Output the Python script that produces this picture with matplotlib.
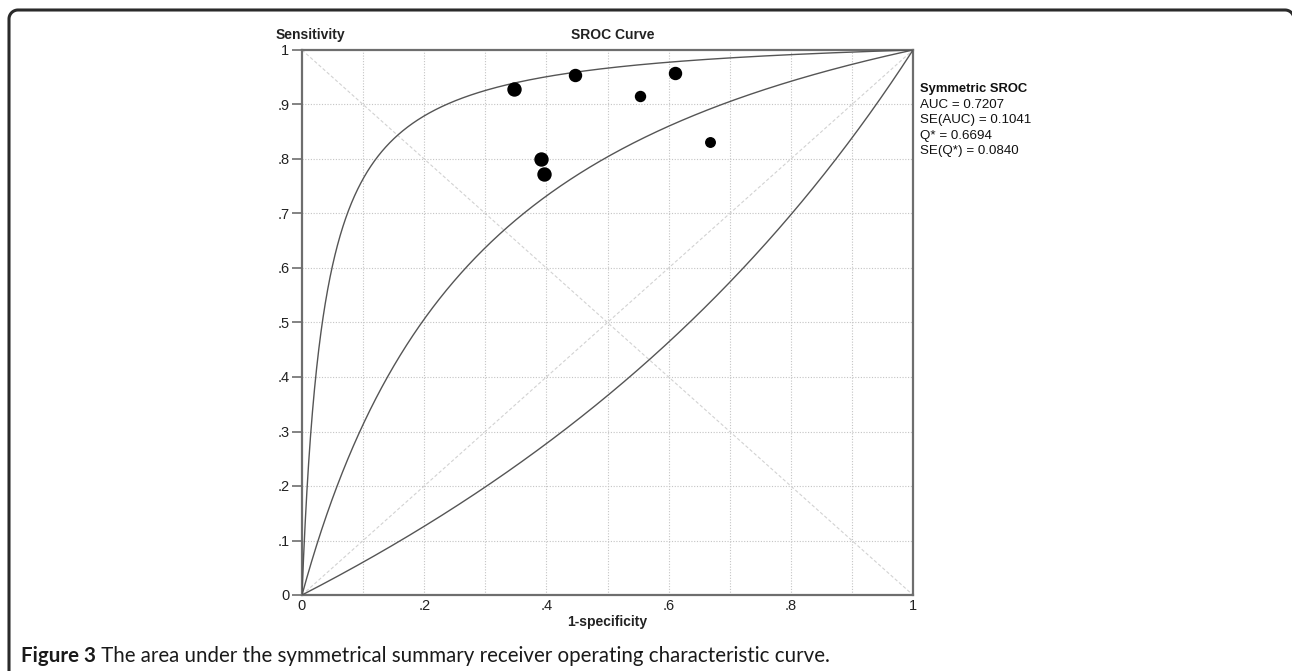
import numpy as np
import matplotlib
matplotlib.use("Agg")
import matplotlib.pyplot as plt
from matplotlib.lines import Line2D

# ---- data ----
fpr = [0.347, 0.447, 0.553, 0.610, 0.668, 0.391, 0.396]
tpr = [0.928, 0.954, 0.916, 0.958, 0.832, 0.800, 0.772]
msize_px = [13, 12, 10, 12, 9.5, 13, 13]
# SROC model: logit(TPR) = a + logit(FPR); lower bound, fitted, upper bound
sroc_a = [-0.55, 1.411, 3.37]
xtick_vals = [0, 0.2, 0.4, 0.6, 0.8, 1.0]
xtick_labels = ["0", ".2", ".4", ".6", ".8", "1"]
ytick_vals = [0, 0.1, 0.2, 0.3, 0.4, 0.5, 0.6, 0.7, 0.8, 0.9, 1.0]
ytick_labels = ["0", ".1", ".2", ".3", ".4", ".5", ".6", ".7", ".8", ".9", "1"]
stats_title = "Symmetric SROC"
stats_lines = ["AUC = 0.7207", "SE(AUC) = 0.1041", "Q* = 0.6694", "SE(Q*) = 0.0840"]
caption_bold = "Figure 3"
caption_rest = " The area under the symmetrical summary receiver operating characteristic curve."

W, H = 1292, 671
fig = plt.figure(figsize=(W / 100, H / 100), dpi=100)
fig.patch.set_facecolor("white")

# outer frame (rounded top corners, open at bottom, right edge off-canvas)
fl, ft, fr, rad = 9.0, 10.0, 1294.0, 9.0
th = np.linspace(0, np.pi / 2, 20)
left_arc_x = fl + rad - rad * np.cos(th)
left_arc_y = ft + rad - rad * np.sin(th)
right_arc_x = fr - rad + rad * np.sin(th)
right_arc_y = ft + rad - rad * np.cos(th)
px = np.concatenate([[fl], left_arc_x, right_arc_x, [fr]])
py = np.concatenate([[H + 10], left_arc_y, right_arc_y, [H + 10]])
fig.add_artist(Line2D(px / W, 1 - py / H, transform=fig.transFigure,
                      color="#2a2a2a", lw=2.2, clip_on=False,
                      solid_joinstyle="round"))

ax_l, ax_r, ax_t, ax_b = 302, 913, 50, 595
ax = fig.add_axes([ax_l / W, 1 - ax_b / H, (ax_r - ax_l) / W, (ax_b - ax_t) / H])
ax.set_xlim(0, 1)
ax.set_ylim(0, 1)

# grid
for v in np.arange(1, 10) / 10:
    ax.axvline(v, color="#c4c4c4", lw=0.8, ls=(0, (1, 1.5)), zorder=1)
    ax.axhline(v, color="#c4c4c4", lw=0.8, ls=(0, (1, 1.5)), zorder=1)
# diagonals
ax.plot([0, 1], [0, 1], color="#d2d2d2", lw=0.8, ls=(0, (3, 2)), zorder=1)
ax.plot([0, 1], [1, 0], color="#d2d2d2", lw=0.8, ls=(0, (3, 2)), zorder=1)

# SROC curves
xs = np.linspace(1e-6, 1 - 1e-6, 2000)
xs = np.concatenate([[0.0], np.geomspace(1e-7, 0.02, 400), xs[xs > 0.02], [1.0]])
for a in sroc_a:
    with np.errstate(divide="ignore", invalid="ignore"):
        ys = 1.0 / (1.0 + np.exp(-a) * (1 - xs) / np.where(xs > 0, xs, np.nan))
    ys[0] = 0.0
    ys[-1] = 1.0
    ax.plot(xs, ys, color="#555555", lw=1.0, zorder=3)

# study points
ms_pt = np.array(msize_px) * 72 / 100
for x, y, m in zip(fpr, tpr, ms_pt):
    ax.plot(x, y, "o", color="black", markersize=m, zorder=5)

for s in ax.spines.values():
    s.set_color("#6e6e6e")
    s.set_linewidth(1.6)

ax.set_xticks(xtick_vals)
ax.set_xticklabels(xtick_labels)
ax.set_yticks(ytick_vals)
ax.set_yticklabels(ytick_labels)
ax.tick_params(axis="x", length=0, pad=3, labelsize=10.5, colors="#222222")
ax.tick_params(axis="y", length=7, width=1.2, color="#6e6e6e", pad=2,
               labelsize=10.5, labelcolor="#222222")
for lab in ax.get_xticklabels() + ax.get_yticklabels():
    lab.set_family("Liberation Sans")

fnt = "Liberation Sans"
fig.text(276 / W, 1 - 35 / H, "Sensitivity", fontsize=10, fontweight="bold",
         family=fnt, ha="left", va="center", color="#222222")
fig.text(613 / W, 1 - 35 / H, "SROC Curve", fontsize=10, fontweight="bold",
         family=fnt, ha="center", va="center", color="#222222")
fig.text(607 / W, 1 - 622 / H, "1-specificity", fontsize=10, fontweight="bold",
         family=fnt, ha="center", va="center", color="#222222")

fig.text(920 / W, 1 - 89 / H, stats_title, fontsize=9.4, fontweight="bold",
         family=fnt, ha="left", va="center", color="#111111")
for i, line in enumerate(stats_lines):
    fig.text(920 / W, 1 - (104.5 + 15.5 * i) / H, line, fontsize=9.6,
             family=fnt, ha="left", va="center", color="#111111")

# caption
cap_font = "Lato"
cap_size = 14
t1 = fig.text(21 / W, 1 - 656 / H, caption_bold, fontsize=cap_size,
              fontweight="bold", family=cap_font, ha="left", va="center",
              color="#1a1a1a")
fig.canvas.draw()
r = fig.canvas.get_renderer()
bb = t1.get_window_extent(r)
t2 = fig.text(bb.x1 / W, 1 - 656 / H, caption_rest, fontsize=cap_size,
              family=cap_font, ha="left", va="center", color="#1a1a1a")
fig.canvas.draw()
bb2 = t2.get_window_extent(r)
target = 832
scale = (target - 21) / (bb2.x1 - bb.x0)
t1.set_fontsize(cap_size * scale)
fig.canvas.draw()
bb = t1.get_window_extent(r)
t2.set_fontsize(cap_size * scale)
t2.set_position((bb.x1 / W, 1 - 656 / H))

fig.savefig("out.png", dpi=100, facecolor="white")
